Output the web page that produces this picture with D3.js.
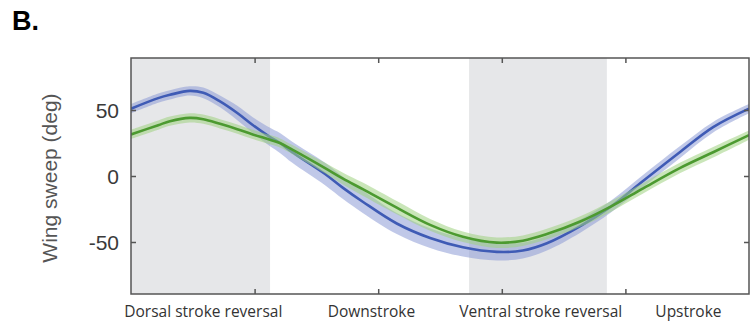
<!DOCTYPE html>
<html>
<head>
<meta charset="utf-8">
<script src="https://cdn.jsdelivr.net/npm/d3@7"></script>
<style>
  html, body { margin: 0; padding: 0; background: #fff; }
  svg { display: block; }
</style>
</head>
<body>
<svg id="chart" width="750" height="329"></svg>
<script>
// Phase of wingbeat (% of cycle)
const phase = [0, 4.4, 6.3, 9.5, 11.7, 14.4, 17.2, 19.7, 22.5, 24.1, 26.1, 31.4, 34.3, 37.5, 43, 48.4, 53.7, 59.2, 63.4, 67.3, 72.7, 77.7, 82.8, 88.8, 94.2, 100];
// Blue series: mean wing sweep (deg) and band half-width
const blueMean = [51, 59, 61.5, 64.5, 63, 56.5, 47.7, 38.6, 29.5, 25, 18, 1.5, -9, -19.5, -36, -47, -54, -57.5, -56.5, -51, -38, -23, -4, 18, 37, 51];
const blueSpread = [3.5, 3.5, 3.5, 3.5, 4, 4.5, 5.5, 6, 7, 7.5, 8, 8.5, 8.5, 8.5, 8, 7.5, 7, 6.5, 6, 5.5, 5, 4.5, 4.5, 4.5, 4, 3.5];
// Green series
const greenMean = [31.5, 38.5, 41.5, 44, 43, 39.5, 35.5, 31.5, 27.5, 25, 20, 6, -2, -10, -24, -37, -46, -50.5, -49, -44, -34.5, -23, -9.5, 6, 18, 31];
const greenSpread = [3.5, 3.5, 3.5, 3.5, 3.5, 3.5, 3.5, 3.5, 3.5, 3.5, 3.5, 4, 4.5, 5, 5, 4.5, 4, 4, 4, 4, 4, 4, 4, 4, 4, 3.5];
// Shaded stroke-reversal windows (% of cycle)
const shadeStart = [0, 54.7];
const shadeEnd = [22.5, 77];
// Axis ticks
const xTicks = [20, 40, 60, 80];
const yTicks = [-50, 0, 50];
// Phase labels and their centre positions (% of cycle)
const phaseLabels = ["Dorsal stroke reversal", "Downstroke", "Ventral stroke reversal", "Upstroke"];
const phaseLabelPos = [11.7, 38.9, 66.3, 90.2];

const svg = d3.select("#chart");
const L = 131, R = 749, T = 58, B = 294;
const x = d3.scaleLinear().domain([0, 100]).range([L, R]);
const y = d3.scaleLinear().domain([-89.4, 89.4]).range([B, T]);

// shaded regions
svg.append("g").selectAll("rect").data(shadeStart).join("rect")
  .attr("x", (d) => x(d))
  .attr("y", T)
  .attr("width", (d, i) => x(shadeEnd[i]) - x(d))
  .attr("height", B - T)
  .attr("fill", "#e6e7e9");

svg.append("clipPath").attr("id", "clip").append("rect")
  .attr("x", L).attr("y", T).attr("width", R - L).attr("height", B - T);

const plot = svg.append("g").attr("clip-path", "url(#clip)");

function series(mean, spread, bandColor, lineColor) {
  const pts = phase.map((p, i) => ({ p, m: mean[i], s: spread[i] }));
  const curve = d3.curveCatmullRom.alpha(0.5);
  const area = d3.area().curve(curve)
    .x((d) => x(d.p)).y0((d) => y(d.m - d.s)).y1((d) => y(d.m + d.s));
  const line = d3.line().curve(curve)
    .x((d) => x(d.p)).y((d) => y(d.m));
  plot.append("path").datum(pts).attr("d", area)
    .attr("fill", bandColor).attr("fill-opacity", 0.55);
  plot.append("path").datum(pts).attr("d", line)
    .attr("fill", "none").attr("stroke", lineColor).attr("stroke-width", 2.6);
}
series(blueMean, blueSpread, "#8c9bd6", "#3f5bb5");
series(greenMean, greenSpread, "#9ed27f", "#4c9a30");

// axes (ticks inward, box)
const tickLen = 5;
const axisColor = "#555";
const axBottom = d3.axisTop(x).tickValues(xTicks).tickSize(tickLen).tickFormat("");
const axTop = d3.axisBottom(x).tickValues(xTicks).tickSize(tickLen).tickFormat("");
const axLeft = d3.axisRight(y).tickValues(yTicks).tickSize(tickLen).tickFormat("");
const axRight = d3.axisLeft(y).tickValues(yTicks).tickSize(tickLen).tickFormat("");
function styleAxis(g) {
  g.select(".domain").remove();
  g.selectAll(".tick line").attr("stroke", axisColor).attr("stroke-width", 1.5);
}
svg.append("g").attr("transform", `translate(0,${B})`).call(axBottom).call(styleAxis);
svg.append("g").attr("transform", `translate(0,${T})`).call(axTop).call(styleAxis);
svg.append("g").attr("transform", `translate(${L},0)`).call(axLeft).call(styleAxis);
svg.append("g").attr("transform", `translate(${R},0)`).call(axRight).call(styleAxis);

svg.append("rect").attr("x", L).attr("y", T).attr("width", R - L).attr("height", B - T)
  .attr("fill", "none").attr("stroke", axisColor).attr("stroke-width", 1.5);

// y tick labels
svg.append("g").selectAll("text").data(yTicks).join("text")
  .attr("x", L - 12).attr("y", (d) => y(d)).attr("dy", "0.36em")
  .attr("text-anchor", "end")
  .attr("font-family", "Liberation Sans, Arial, sans-serif")
  .attr("font-size", 21).attr("fill", "#3a3a3a")
  .text((d) => d);

// y title
svg.append("text")
  .attr("transform", `translate(57,${(T + B) / 2 + 2}) rotate(-90)`)
  .attr("text-anchor", "middle")
  .attr("font-family", "Liberation Sans, Arial, sans-serif")
  .attr("font-size", 21).attr("fill", "#555")
  .text("Wing sweep (deg)");

// phase labels
svg.append("g").selectAll("text").data(phaseLabels).join("text")
  .attr("x", (d, i) => x(phaseLabelPos[i])).attr("y", 317)
  .attr("text-anchor", "middle")
  .attr("font-family", "Open Sans, Noto Sans, sans-serif")
  .attr("font-size", 15.5).attr("fill", "#333")
  .text((d) => d);

// panel letter
svg.append("text").attr("x", 12).attr("y", 30)
  .attr("font-family", "Liberation Sans, Arial, sans-serif")
  .attr("font-weight", "bold").attr("font-size", 27).attr("fill", "#000")
  .text("B.");
</script>
</body>
</html>
